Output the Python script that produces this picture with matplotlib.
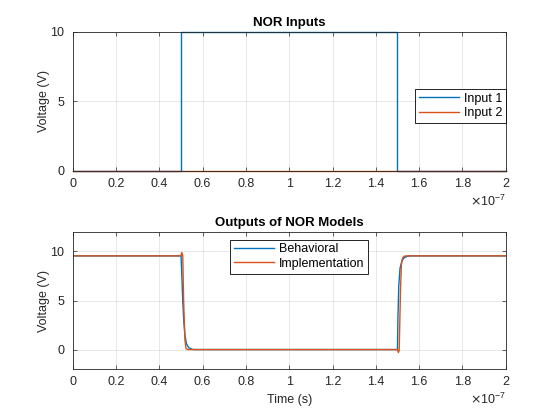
import numpy as np
import matplotlib
matplotlib.use("Agg")
import matplotlib.pyplot as plt
from matplotlib.ticker import ScalarFormatter

plt.rcParams['font.family'] = ['Liberation Sans', 'DejaVu Sans']
plt.rcParams['font.size'] = 9

# inputs (time in ns)
t_in1 = [0, 50, 50, 150, 150, 200]
v_in1 = [0, 0, 10, 10, 0, 0]
t_in2 = [0, 200]
v_in2 = [0, 0]

# outputs (time in ns)
t_beh = [0, 50, 50.3, 50.8, 51.3, 51.8, 52.5, 53.5, 55, 56,
         150, 150.2, 150.6, 151.2, 152, 153, 154.5, 156, 200]
v_beh = [9.55, 9.55, 8.0, 5.0, 2.8, 1.5, 0.6, 0.2, 0.03, 0,
         0, 3.0, 6.5, 8.3, 9.0, 9.35, 9.5, 9.55, 9.55]
t_imp = [0, 50, 50.3, 50.8, 51.2, 51.8, 52.3, 53,
         150, 150.4, 150.8, 151.0, 151.4, 151.8, 152.3, 153, 154, 200]
v_imp = [9.55, 9.55, 9.9, 9.6, 5.0, 1.0, 0.1, 0,
         0, -0.3, -0.1, 2.0, 6.0, 8.6, 9.3, 9.5, 9.55, 9.55]

blue = '#0072BD'
orange = '#D95319'
dark = '#262626'


# matlab style tick labels: 0, 0.2, ... 2
class MatFmt(ScalarFormatter):
    def _set_format(self):
        self.format = '%g'


fig = plt.figure(figsize=(5.6, 4.2), dpi=100)
ax1 = fig.add_axes([0.130, 0.593, 0.773, 0.331])
ax2 = fig.add_axes([0.130, 0.121, 0.773, 0.327])


def style(ax):
    ax.set_xlim(0, 2e-7)
    ax.set_xticks(np.arange(0, 2.01e-7, 0.2e-7))
    fmt = MatFmt(useMathText=True)
    fmt.set_powerlimits((-3, 3))
    ax.xaxis.set_major_formatter(fmt)
    ax.tick_params(direction='in', top=True, right=True, length=3,
                   width=0.5, colors=dark, labelsize=9)
    ax.tick_params(axis='y', pad=6)
    ax.tick_params(axis='x', pad=5)
    for s in ax.spines.values():
        s.set_linewidth(0.6)
        s.set_color(dark)
    ax.grid(True, color=dark, alpha=0.15, linewidth=0.5)
    ax.set_axisbelow(True)
    ax.xaxis.get_offset_text().set_color(dark)


ax1.plot(np.array(t_in1) * 1e-9, v_in1, color=blue, lw=1.0, label='Input 1', clip_on=False)
ax1.plot(np.array(t_in2) * 1e-9, v_in2, color=orange, lw=1.0, label='Input 2', clip_on=False)
style(ax1)
ax1.set_ylim(0, 10)
ax1.set_yticks([0, 5, 10])
ax1.set_ylabel('Voltage (V)', color=dark, labelpad=0)
ax1.set_title('NOR Inputs', fontweight='bold', fontsize=9.5, pad=4)
leg1 = ax1.legend(loc='upper left', bbox_to_anchor=(0.79, 0.59), fancybox=False,
                  edgecolor='black', framealpha=1, handlelength=3.2,
                  borderpad=0.3, labelspacing=0.2, handletextpad=0.4,
                  borderaxespad=0)
leg1.get_frame().set_linewidth(0.6)

ax2.plot(np.array(t_beh) * 1e-9, v_beh, color=blue, lw=1.0, label='Behavioral')
ax2.plot(np.array(t_imp) * 1e-9, v_imp, color=orange, lw=1.0, label='Implementation')
style(ax2)
ax2.set_ylim(-2, 12)
ax2.set_yticks([0, 5, 10])
ax2.set_ylabel('Voltage (V)', color=dark, labelpad=0)
ax2.set_xlabel('Time (s)', color=dark)
ax2.set_title('Outputs of NOR Models', fontweight='bold', fontsize=9.5, pad=4)
leg2 = ax2.legend(loc='upper left', bbox_to_anchor=(0.363, 0.944), fancybox=False,
                  edgecolor='black', framealpha=1, handlelength=3.2,
                  borderpad=0.3, labelspacing=0.2, handletextpad=0.4,
                  borderaxespad=0)
leg2.get_frame().set_linewidth(0.6)

fig.savefig('out.png', dpi=100)
